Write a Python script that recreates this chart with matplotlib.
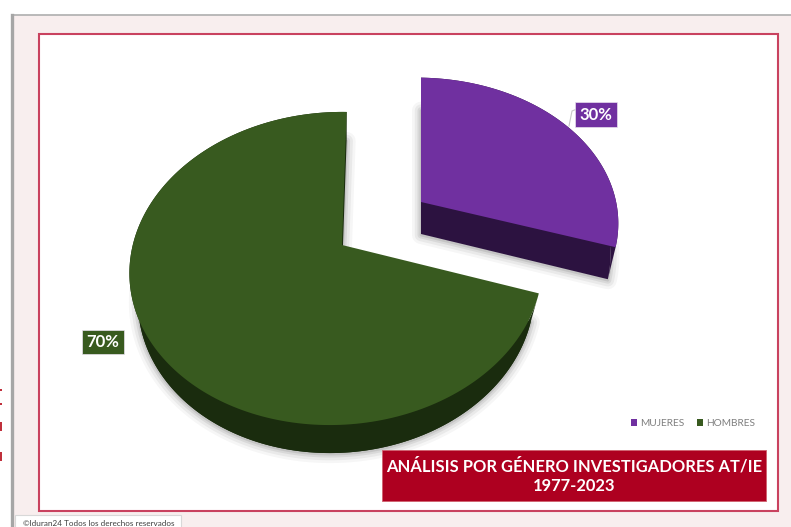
#!/usr/bin/env python3

import matplotlib

matplotlib.use("Agg")
import matplotlib.pyplot as plt
import numpy as np
from matplotlib.patches import Polygon, Rectangle

CATEGORIES = ["MUJERES", "HOMBRES"]
VALUES = [30, 70]
LABELS = ["30%", "70%"]
TITLE = "ANÁLISIS POR GÉNERO INVESTIGADORES AT/IE\n1977-2023"
FOOTER = "©lduran24 Todos los derechos reservados"

TOP_COLORS = ["#7030a0", "#385a1f"]
SIDE_COLORS = ["#2c1240", "#1a2c0e"]
FONT = "Lato"

W, H = 791, 527


def face(start, stop, apex, a, b, lean=0.0, scale=1.0, dy=0.0):
    # perspective projection of a flat pie slice, angles in degrees
    t = np.radians(np.linspace(start, stop, 200))
    u, v = np.cos(t), np.sin(t)
    w = 1 + 0.15 * v + 0.025 * u
    x = scale * a * u / w
    y = -b * v / w
    return apex[0] + x - lean * y, apex[1] + dy + y


def draw_slice(ax, start, stop, apex, a, b, depth, top, side, lean=0.0):
    x0, y0 = face(start, stop, apex, a, b, lean)
    x1, y1 = face(start, stop, apex, a, b, lean, scale=0.96, dy=depth)
    low_x, low_y = apex[0], apex[1] + depth
    bottom = np.c_[np.r_[x1, low_x], np.r_[y1, low_y]]

    # soft shadow round the lower face
    for lw, alpha in [(13, 0.035), (9, 0.05), (5, 0.07), (2, 0.09)]:
        ax.add_patch(Polygon(bottom + [0, 1], closed=True, fc="none", ec="black", lw=lw, alpha=alpha,
                             joinstyle="round", zorder=3))

    ax.add_patch(Polygon(bottom, closed=True, fc=side, ec="none", zorder=4))
    wall = np.c_[np.r_[x0, x1[::-1]], np.r_[y0, y1[::-1]]]
    ax.add_patch(Polygon(wall, closed=True, fc=side, ec="none", zorder=5))
    ax.add_patch(Polygon(np.c_[np.r_[x0, apex[0]], np.r_[y0, apex[1]]], closed=True, fc=top, ec="none", zorder=6))


def main() -> None:
    fig = plt.figure(figsize=(W / 100, H / 100), dpi=100, facecolor="white")
    ax = fig.add_axes([0, 0, 1, 1])
    ax.set_xlim(0, W)
    ax.set_ylim(H, 0)
    ax.axis("off")

    # slide background and the two frames
    ax.add_patch(Rectangle((11.5, 15), W + 20, H + 20, fc="#f8eeee", ec="#b4b4b4", lw=1.3, zorder=1))
    ax.plot([11.5, 11.5], [15, H], color="#a6a6a6", lw=2.4, zorder=1.5)
    ax.add_patch(Rectangle((39, 34), 739, 477, fc="white", ec="#c9425f", lw=1.5, zorder=2))

    # scraps of cropped red text at the left edge
    for y, h in zip([389, 403, 422, 452], [2, 2, 9, 9]):
        ax.add_patch(Rectangle((0, y), 1.6, h, fc="#c0303c", ec="none", zorder=2))

    # slices: purple clockwise from the top, green takes the rest
    sweep = np.array(VALUES, dtype=float) / sum(VALUES) * 360.0
    start = 90.0
    draw_slice(ax, start - sweep[0], start, (421, 202), 200, 143, 32, TOP_COLORS[0], SIDE_COLORS[0])
    draw_slice(ax, start, start + sweep[1], (342, 245), 204, 153, 28, TOP_COLORS[1], SIDE_COLORS[1], lean=0.035)

    # data labels
    ax.plot([569, 572, 577], [126, 111, 109], color="#c8c8c8", lw=0.8, zorder=7)
    for text, color, pos in zip(LABELS, TOP_COLORS, [(596, 114.5), (103, 342)]):
        ax.text(
            pos[0], pos[1], text, ha="center", va="center", color="white", fontsize=12,
            fontweight="bold", family=FONT, zorder=8,
            bbox=dict(boxstyle="square,pad=0.25", fc=color, ec="#e8e0ee", lw=0.5),
        )

    # legend
    for name, color, x in zip(CATEGORIES, TOP_COLORS, [631, 697]):
        ax.add_patch(Rectangle((x, 419), 6, 7, fc=color, ec="none", zorder=8))
        ax.text(x + 9.5, 423, name, ha="left", va="center", color="#7f7f7f", fontsize=7.3, family=FONT, zorder=8)

    # title box
    ax.add_patch(Rectangle((382, 450), 384, 51, fc="#ae0020", ec="#d0606e", lw=0.6, zorder=8))
    ax.text(574, 476, TITLE, ha="center", va="center", color="white", fontsize=11.9, fontweight="bold",
            family=FONT, linespacing=1.25, zorder=9)

    # footer tab
    ax.add_patch(Rectangle((15, 515), 166, 14, fc="white", ec="#d8d8d8", lw=0.8, zorder=8))
    ax.text(23, 523, FOOTER, ha="left", va="center", color="#404040", fontsize=5.9, family=FONT, zorder=9)

    fig.savefig("out.png", dpi=100, facecolor=fig.get_facecolor())
    plt.close(fig)


if __name__ == "__main__":
    main()
